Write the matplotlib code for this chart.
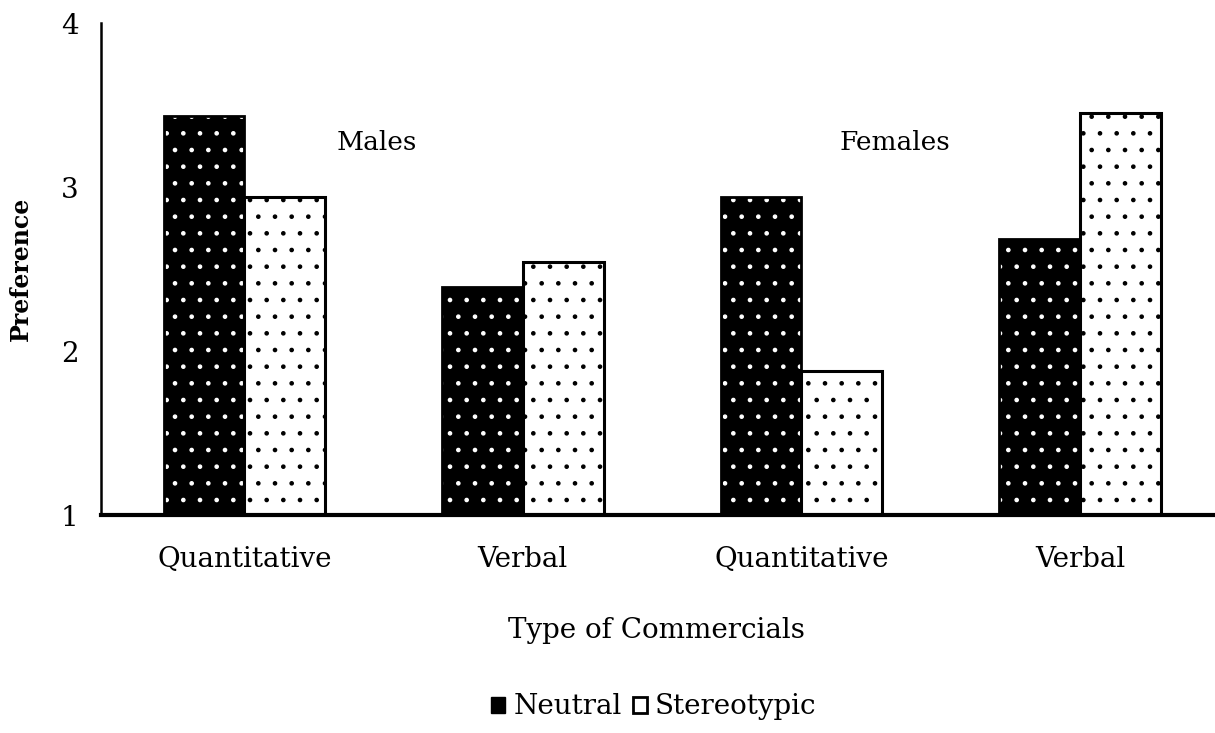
import numpy as np
import matplotlib
matplotlib.use("Agg")
import matplotlib.pyplot as plt
from matplotlib.patches import Patch

plt.rcParams["font.family"] = ["DejaVu Serif"]
plt.rcParams["hatch.linewidth"] = 0.9

# DATA
categories   = ["Quantitative", "Verbal", "Quantitative", "Verbal"]
neutral      = [3.43, 2.39, 2.94, 2.68]
stereotypic  = [2.94, 2.54, 1.88, 3.45]
group_labels = ["Males", "Females"]
group_pos    = [(0.476, 3.27), (2.336, 3.27)]
y_ticks      = [1, 2, 3, 4]

W = 0.29

fig = plt.figure(figsize=(12.15, 7.33), dpi=100)
ax = fig.add_axes([0.083, 0.2974, 0.917, 0.6712])

x = np.arange(len(categories))

# neutral: black with white dots
ax.bar(x - W / 2, np.array(neutral) - 1, W, bottom=1,
       facecolor="black", edgecolor="white", hatch=".", linewidth=0, zorder=2)
ax.bar(x - W / 2, np.array(neutral) - 1, W, bottom=1,
       fill=False, edgecolor="black", linewidth=2, zorder=3)

# stereotypic: white with black dots
ax.bar(x + W / 2, np.array(stereotypic) - 1, W, bottom=1,
       facecolor="white", edgecolor="black", hatch=".", linewidth=2.2, zorder=2)

for lab, (gx, gy) in zip(group_labels, group_pos):
    ax.text(gx, gy, lab, ha="center", va="center", fontsize=19)

ax.set_xlim(-0.515, 3.485)
ax.set_ylim(1, 4)
ax.set_yticks(y_ticks)
ax.set_xticks(x)
ax.set_xticklabels(categories)
ax.tick_params(axis="both", length=0, labelsize=20)
ax.tick_params(axis="x", pad=22)
ax.tick_params(axis="y", pad=16)

for s in ["top", "right"]:
    ax.spines[s].set_visible(False)
ax.spines["left"].set_linewidth(1.8)
ax.spines["bottom"].set_linewidth(3)

ax.set_ylabel("Preference", fontsize=17, fontweight="bold")
ax.yaxis.set_label_coords(-0.061, 0.5)
fig.text(0.54, 1 - 630 / 733, "Type of Commercials", ha="center", va="center", fontsize=20)

handles = [Patch(facecolor="black", edgecolor="black"),
           Patch(facecolor="white", edgecolor="black", linewidth=2)]
fig.legend(handles, ["Neutral", "Stereotypic"], loc="center",
           bbox_to_anchor=(0.538, 1 - 707 / 733), ncol=2, frameon=False,
           fontsize=20, handlelength=0.5, handleheight=0.5,
           handletextpad=0.3, columnspacing=0.4)

fig.savefig("out.png", dpi=100)
